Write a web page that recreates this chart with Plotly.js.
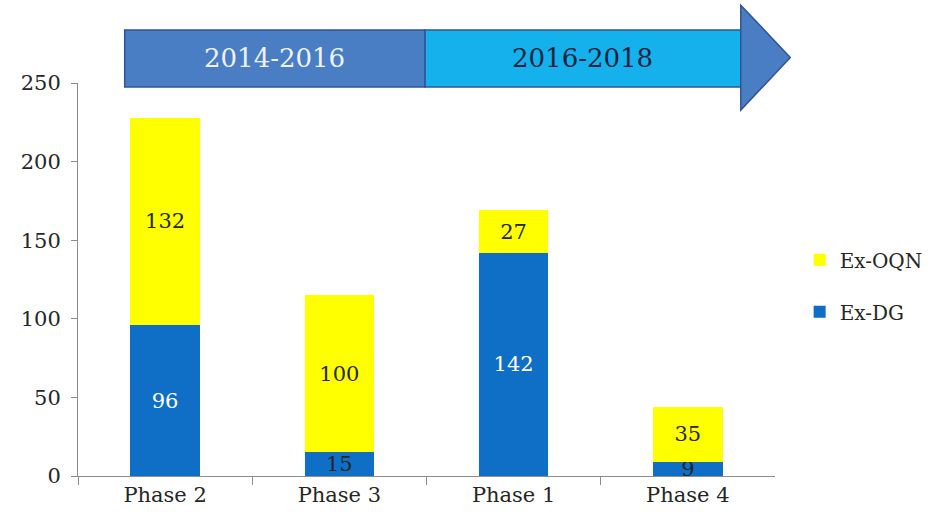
<!DOCTYPE html>
<html>
<head>
<meta charset="utf-8">
<script src="https://cdn.plot.ly/plotly-3.0.1.min.js"></script>
<style>
  html, body { margin: 0; padding: 0; background: #fff; }
  #chart { width: 930px; height: 523px; }
</style>
</head>
<body>
<div id="chart"></div>
<script>
// Values
const PHASES = ["Phase 2", "Phase 3", "Phase 1", "Phase 4"];
const EX_DG = [96, 15, 142, 9];
const EX_OQN = [132, 100, 27, 35];
const PERIODS = ["2014-2016", "2016-2018"];

const FONT = "'DejaVu Serif', 'Liberation Serif', serif";
const BLUE = "#0f6fc6";
const YELLOW = "#ffff00";
const INK = "#262626";

const traces = [
  {
    x: PHASES,
    y: EX_DG,
    name: "Ex-DG",
    type: "bar",
    legendgroup: "dg",
    legendrank: 2,
    marker: { color: BLUE },
    text: EX_DG.map(String),
    textposition: "inside",
    insidetextanchor: "middle",
    textangle: 0,
    constraintext: "none",
    textfont: {
      family: FONT,
      size: 21,
      color: EX_DG.map((v) => (v < 30 ? INK : "#ffffff")),
    },
    hoverinfo: "name+y",
  },
  {
    x: PHASES,
    y: EX_OQN,
    name: "Ex-OQN",
    type: "bar",
    legendgroup: "oqn",
    legendrank: 1,
    marker: { color: YELLOW },
    text: EX_OQN.map(String),
    textposition: "inside",
    insidetextanchor: "middle",
    textangle: 0,
    constraintext: "none",
    textfont: { family: FONT, size: 21, color: INK },
    hoverinfo: "name+y",
  },
];

// timeline banner above the plot, placed relative to the x domain
const bandBottom = 0.99;
const bandTop = 1.135;
const bandLeft = 0.067;
const split = 0.498;
const headX = 0.951;
const tipX = 1.022;
const BORDER = { color: "#2f5597", width: 1.5 };
const shapes = [
  {
    type: "rect", xref: "x domain", yref: "paper",
    x0: bandLeft, x1: split, y0: bandBottom, y1: bandTop,
    fillcolor: "#4a7ec4", line: BORDER,
  },
  {
    type: "rect", xref: "x domain", yref: "paper",
    x0: split, x1: headX, y0: bandBottom, y1: bandTop,
    fillcolor: "#14b1ec", line: BORDER,
  },
  {
    type: "path", xref: "x domain", yref: "paper",
    path: `M ${headX},1.198 L ${tipX},1.065 L ${headX},0.931 Z`,
    fillcolor: "#4a7ec4", line: BORDER,
  },
];

const annotations = [
  {
    xref: "x domain", yref: "paper",
    x: (bandLeft + split) / 2, y: (bandBottom + bandTop) / 2,
    xanchor: "center", yanchor: "middle",
    text: PERIODS[0], showarrow: false,
    font: { family: FONT, size: 26, color: "#eef3fb" },
  },
  {
    xref: "x domain", yref: "paper",
    x: (split + headX) / 2, y: (bandBottom + bandTop) / 2,
    xanchor: "center", yanchor: "middle",
    text: PERIODS[1], showarrow: false,
    font: { family: FONT, size: 26, color: "#13233d" },
  },
];

const layout = {
  width: 930,
  height: 523,
  margin: { l: 78, r: 0, t: 83, b: 47 },
  paper_bgcolor: "#ffffff",
  plot_bgcolor: "#ffffff",
  font: { family: FONT, size: 20, color: INK },
  barmode: "stack",
  bargap: 0.6,
  showlegend: true,
  legend: {
    x: 0.847, xanchor: "left",
    y: 0.6, yanchor: "top",
    traceorder: "grouped",
    tracegroupgap: 23,
    font: { family: FONT, size: 20, color: INK },
    bgcolor: "rgba(0,0,0,0)",
  },
  xaxis: {
    type: "category",
    domain: [0, 0.818],
    showline: true,
    linecolor: "#8c8c8c",
    linewidth: 1,
    ticks: "outside",
    tickson: "boundaries",
    ticklen: 8,
    tickcolor: "#8c8c8c",
    showgrid: false,
    tickfont: { family: FONT, size: 21, color: INK },
  },
  yaxis: {
    range: [0, 250],
    dtick: 50,
    showline: true,
    linecolor: "#8c8c8c",
    linewidth: 1,
    ticks: "outside",
    ticklen: 6,
    tickcolor: "#8c8c8c",
    showgrid: false,
    zeroline: false,
    ticklabelstandoff: 6,
    tickfont: { family: FONT, size: 21, color: INK },
  },
  shapes: shapes,
  annotations: annotations,
};

Plotly.newPlot("chart", traces, layout, { displayModeBar: false, staticPlot: true });
</script>
</body>
</html>
